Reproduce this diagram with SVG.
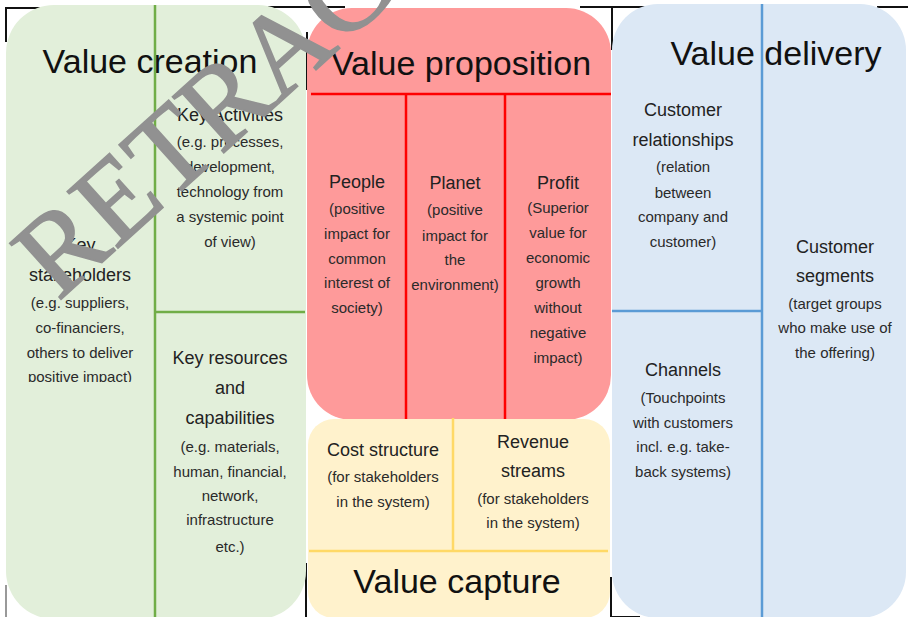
<svg xmlns="http://www.w3.org/2000/svg" width="908" height="617" viewBox="0 0 908 617">
  <style>
    .title { font-family: "Liberation Sans", Arial, sans-serif; font-size: 34px; fill: #111; text-anchor: middle; }
    .head { font-family: "Liberation Sans", Arial, sans-serif; font-size: 18px; fill: #222; text-anchor: middle; }
    .desc { font-family: "Liberation Sans", Arial, sans-serif; font-size: 15px; fill: #2a2a2a; text-anchor: middle; }
    .frame { stroke: #111; stroke-width: 2; fill: none; }
    .frame-thin { stroke: #555; stroke-width: 1.2; fill: none; }
    .div-green { stroke: #70ad47; stroke-width: 2.5; }
    .div-red { stroke: #ff0000; stroke-width: 2.5; }
    .div-yellow { stroke: #ffd966; stroke-width: 2.5; }
    .div-blue { stroke: #5b9bd5; stroke-width: 2.5; }
    .stamp { font-family: "Liberation Serif", "Times New Roman", serif; font-size: 116px; fill: #919191; stroke: #919191; stroke-width: 1.6; }
  </style>
  <defs>
    <clipPath id="clipStake">
      <rect x="0" y="0" width="155" height="382"/>
    </clipPath>
  </defs>

  <rect x="0" y="0" width="908" height="617" fill="#ffffff"/>

  <!-- table border fragments behind the rounded panels -->
  <g id="frame">
    <path class="frame" d="M5 8 H40 M6 8 V42"/>
    <path class="frame" d="M268 7 H345 M307 32 V90"/>
    <path class="frame-thin" d="M283 22 V88"/>
    <path class="frame" d="M580 7 H647 M612 7 V50 M877 7 H908"/>
    <path class="frame-thin" d="M6 585 V617"/>
    <path class="frame" d="M306 563 V617 M611 577 V617 H640"/>
  </g>

  <!-- Value creation panel -->
  <g id="value-creation">
    <rect x="6" y="5" width="300" height="614" rx="48" ry="48" fill="#e2efda"/>
    <text class="title" x="150" y="73">Value creation</text>
  </g>

  <!-- Value proposition panel -->
  <g id="value-proposition">
    <rect x="307" y="8" width="304" height="412" rx="45" ry="45" fill="#fe9a9a"/>
    <text class="title" x="461" y="75">Value proposition</text>
  </g>

  <!-- Value capture panel -->
  <g id="value-capture">
    <rect x="308" y="419" width="302" height="199" rx="26" ry="26" fill="#fff2cc"/>
    <text class="title" x="457" y="593">Value capture</text>
  </g>

  <!-- Value delivery panel -->
  <g id="value-delivery">
    <rect x="612" y="4" width="294" height="614" rx="46" ry="46" fill="#dce8f5"/>
    <text class="title" x="776" y="65">Value delivery</text>
  </g>

  <!-- cell dividers -->
  <g id="dividers">
    <line class="div-green" x1="155" y1="5" x2="155" y2="617"/>
    <line class="div-green" x1="155" y1="312" x2="305" y2="312"/>
    <line class="div-red" x1="311" y1="94" x2="611" y2="94"/>
    <line class="div-red" x1="406" y1="94" x2="406" y2="419"/>
    <line class="div-red" x1="505" y1="94" x2="505" y2="419"/>
    <line class="div-yellow" x1="453" y1="418" x2="453" y2="550"/>
    <line class="div-yellow" x1="309" y1="551" x2="608" y2="551"/>
    <line class="div-blue" x1="762" y1="4" x2="762" y2="617"/>
    <line class="div-blue" x1="612" y1="311" x2="762" y2="311"/>
  </g>

  <g id="key-activities">
    <text class="head" x="230" y="121">Key Activities</text>
    <text class="desc" x="230" y="147">(e.g. processes,</text>
    <text class="desc" x="230" y="172">development,</text>
    <text class="desc" x="230" y="197">technology from</text>
    <text class="desc" x="230" y="222">a systemic point</text>
    <text class="desc" x="230" y="247">of view)</text>
  </g>

  <g id="key-stakeholders" clip-path="url(#clipStake)">
    <text class="head" x="80" y="251">Key</text>
    <text class="head" x="80" y="281">stakeholders</text>
    <text class="desc" x="80" y="308">(e.g. suppliers,</text>
    <text class="desc" x="80" y="333">co-financiers,</text>
    <text class="desc" x="80" y="358">others to deliver</text>
    <text class="desc" x="80" y="382">positive impact)</text>
  </g>

  <g id="key-resources">
    <text class="head" x="230" y="364">Key resources</text>
    <text class="head" x="230" y="394">and</text>
    <text class="head" x="230" y="424">capabilities</text>
    <text class="desc" x="230" y="452">(e.g. materials,</text>
    <text class="desc" x="230" y="477">human, financial,</text>
    <text class="desc" x="230" y="501">network,</text>
    <text class="desc" x="230" y="525">infrastructure</text>
    <text class="desc" x="230" y="552">etc.)</text>
  </g>

  <g id="people">
    <text class="head" x="357" y="188">People</text>
    <text class="desc" x="357" y="214">(positive</text>
    <text class="desc" x="357" y="239">impact for</text>
    <text class="desc" x="357" y="264">common</text>
    <text class="desc" x="357" y="288">interest of</text>
    <text class="desc" x="357" y="313">society)</text>
  </g>

  <g id="planet">
    <text class="head" x="455" y="189">Planet</text>
    <text class="desc" x="455" y="215">(positive</text>
    <text class="desc" x="455" y="241">impact for</text>
    <text class="desc" x="455" y="265">the</text>
    <text class="desc" x="455" y="290">environment)</text>
  </g>

  <g id="profit">
    <text class="head" x="558" y="189">Profit</text>
    <text class="desc" x="558" y="213">(Superior</text>
    <text class="desc" x="558" y="238">value for</text>
    <text class="desc" x="558" y="263">economic</text>
    <text class="desc" x="558" y="288">growth</text>
    <text class="desc" x="558" y="313">without</text>
    <text class="desc" x="558" y="338">negative</text>
    <text class="desc" x="558" y="363">impact)</text>
  </g>

  <g id="cost-structure">
    <text class="head" x="383" y="456">Cost structure</text>
    <text class="desc" x="383" y="482">(for stakeholders</text>
    <text class="desc" x="383" y="507">in the system)</text>
  </g>

  <g id="revenue-streams">
    <text class="head" x="533" y="448">Revenue</text>
    <text class="head" x="533" y="477">streams</text>
    <text class="desc" x="533" y="504">(for stakeholders</text>
    <text class="desc" x="533" y="528">in the system)</text>
  </g>

  <g id="customer-relationships">
    <text class="head" x="683" y="116">Customer</text>
    <text class="head" x="683" y="146">relationships</text>
    <text class="desc" x="683" y="172">(relation</text>
    <text class="desc" x="683" y="198">between</text>
    <text class="desc" x="683" y="222">company and</text>
    <text class="desc" x="683" y="247">customer)</text>
  </g>

  <g id="customer-segments">
    <text class="head" x="835" y="253">Customer</text>
    <text class="head" x="835" y="282">segments</text>
    <text class="desc" x="835" y="309">(target groups</text>
    <text class="desc" x="835" y="333">who make use of</text>
    <text class="desc" x="835" y="358">the offering)</text>
  </g>

  <g id="channels">
    <text class="head" x="683" y="376">Channels</text>
    <text class="desc" x="683" y="403">(Touchpoints</text>
    <text class="desc" x="683" y="428">with customers</text>
    <text class="desc" x="683" y="452">incl. e.g. take-</text>
    <text class="desc" x="683" y="477">back systems)</text>
  </g>

  <!-- diagonal stamp across the top-left -->
  <text class="stamp" x="58" y="302" transform="rotate(-42 58 302)">RETRACTED</text>
</svg>
